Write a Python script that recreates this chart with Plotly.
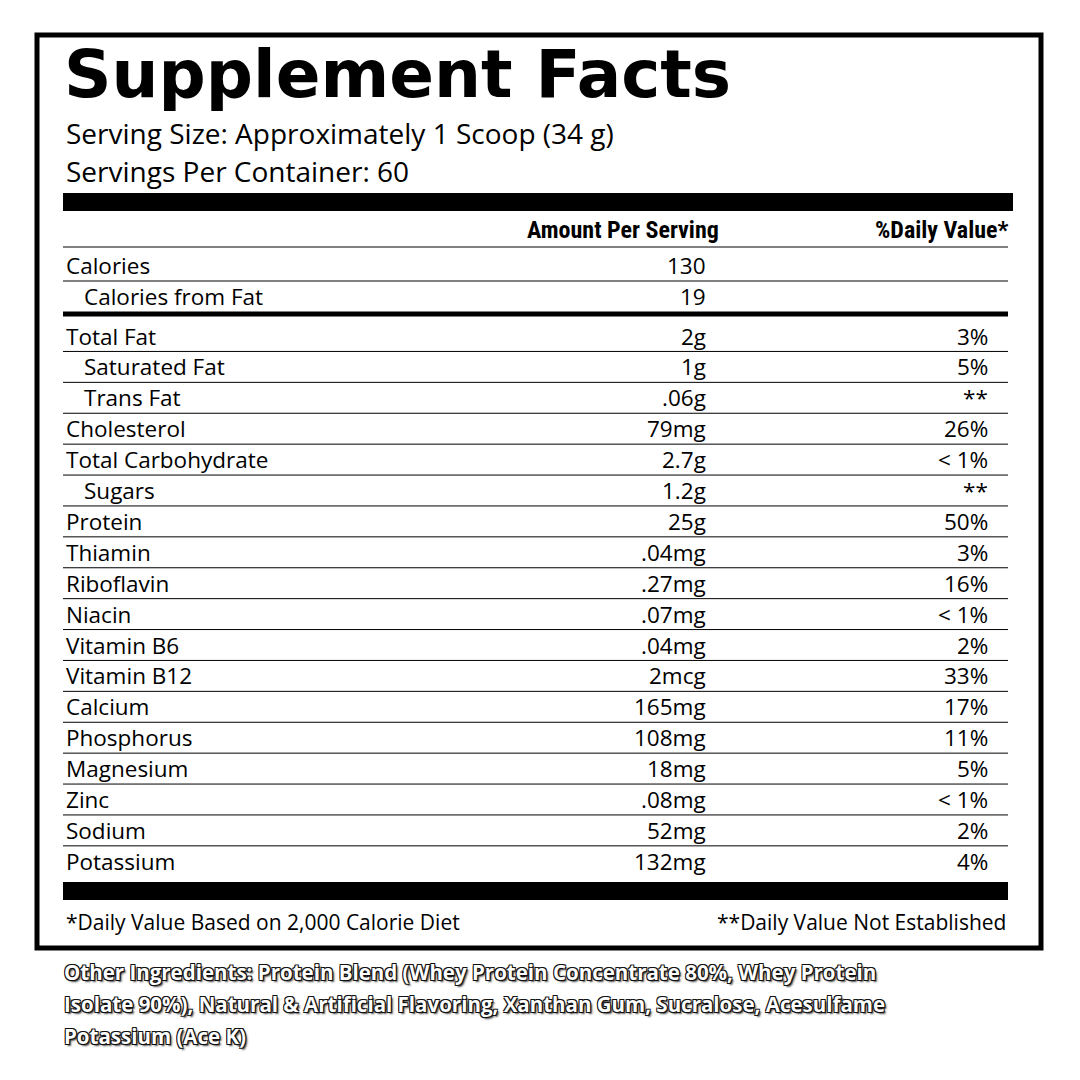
import plotly.graph_objects as go

# label data
title = "Supplement Facts"
serving_size = "Serving Size: Approximately 1 Scoop (34 g)"
servings = "Servings Per Container: 60"

top_names = ["Calories", "Calories from Fat"]
top_amounts = ["130", "19"]
top_indent = [False, True]

names = ["Total Fat", "Saturated Fat", "Trans Fat", "Cholesterol", "Total Carbohydrate",
         "Sugars", "Protein", "Thiamin", "Riboflavin", "Niacin", "Vitamin B6",
         "Vitamin B12", "Calcium", "Phosphorus", "Magnesium", "Zinc", "Sodium", "Potassium"]
amounts = ["2g", "1g", ".06g", "79mg", "2.7g", "1.2g", "25g", ".04mg", ".27mg", ".07mg",
           ".04mg", "2mcg", "165mg", "108mg", "18mg", ".08mg", "52mg", "132mg"]
daily = ["3%", "5%", "**", "26%", "< 1%", "**", "50%", "3%", "16%", "< 1%", "2%",
         "33%", "17%", "11%", "5%", "< 1%", "2%", "4%"]
indent = [False, True, True, False, False, True] + [False] * 12

foot_left = "*Daily Value Based on 2,000 Calorie Diet"
foot_right = "**Daily Value Not Established"
other = ["Other Ingredients: Protein Blend (Whey Protein Concentrate 80%, Whey Protein",
         "Isolate 90%), Natural & Artificial Flavoring, Xanthan Gum, Sucralose, Acesulfame",
         "Potassium (Ace K)"]

FONT = "Open Sans, Noto Sans, sans-serif"
COND = "Liberation Sans Narrow, Roboto Condensed, Roboto, sans-serif"
L, R = 63, 1008
X_AMT, X_DV = 708, 990

fig = go.Figure()
ann = []
shapes = []

def txt(x, y, s, size, anchor="left", font=FONT, weight=None, color="black", shadow=None):
    f = dict(family=font, size=size, color=color)
    if weight:
        f["weight"] = weight
    if shadow:
        f["shadow"] = shadow
    ann.append(dict(x=x, y=y, text=s, showarrow=False, xanchor=anchor, yanchor="middle",
                    xref="x", yref="y", font=f))

def hline(y, w=1, x0=L, x1=R):
    shapes.append(dict(type="line", x0=x0, x1=x1, y0=y, y1=y, xref="x", yref="y",
                       line=dict(color="black", width=w)))

# outer frame
shapes.append(dict(type="rect", x0=37, x1=1041, y0=35, y1=948, xref="x", yref="y",
                   line=dict(color="black", width=5)))

txt(62, 74, "<b>" + title + "</b>", 66, font="DejaVu Sans, Open Sans, sans-serif")
txt(64, 133, serving_size, 28)
txt(64, 171, servings, 28)

shapes.append(dict(type="rect", x0=L, x1=1013, y0=193, y1=211, xref="x", yref="y",
                   fillcolor="black", line=dict(width=0)))
txt(721, 230, "<b>Amount Per Serving</b>", 24, anchor="right", font=COND)
txt(1010, 230, "<b>%Daily Value*</b>", 24, anchor="right", font=COND)
hline(247)

for i, (n, a, ind) in enumerate(zip(top_names, top_amounts, top_indent)):
    y = 265 + i * 31
    txt(82 if ind else 64, y, n, 22.5)
    txt(X_AMT, y, a, 22.5, anchor="right")
    if i == 0:
        hline(y + 16)
hline(314, w=5)

step = 30.9
for i, (n, a, d, ind) in enumerate(zip(names, amounts, daily, indent)):
    y = 336 + i * step
    txt(82 if ind else 64, y, n, 22.5)
    txt(X_AMT, y, a, 22.5, anchor="right")
    txt(X_DV, y, d, 22.5, anchor="right")
    if i < len(names) - 1:
        hline(y + step / 2)

shapes.append(dict(type="rect", x0=L, x1=1008, y0=882, y1=900, xref="x", yref="y",
                   fillcolor="black", line=dict(width=0)))
txt(64, 922, foot_left, 21)
txt(1008, 922, foot_right, 21, anchor="right")

sh = "-1px -1px 0 #111, 1px -1px 0 #111, -1px 1px 0 #111, 1px 1px 0 #111, 2px 2px 2px #444"
for i, line in enumerate(other):
    txt(62, 972 + i * 32, "<b>" + line + "</b>", 20.5, font=FONT, color="white", shadow=sh)

# page body has an 8px margin, so offset the ranges to land on the reference pixels
fig.update_layout(
    width=1080, height=1080, margin=dict(l=0, r=0, t=0, b=0),
    paper_bgcolor="white", plot_bgcolor="white",
    xaxis=dict(range=[8, 1088], visible=False, fixedrange=True),
    yaxis=dict(range=[1088, 8], visible=False, fixedrange=True),
    annotations=ann, shapes=shapes, showlegend=False,
)
fig.write_html("out.html")
